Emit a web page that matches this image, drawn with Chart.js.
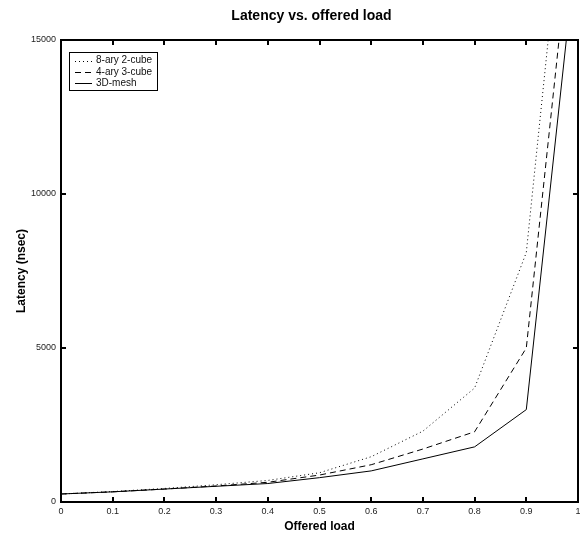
<!DOCTYPE html>
<html>
<head>
<meta charset="utf-8">
<script src="https://cdn.jsdelivr.net/npm/chart.js@4"></script>
<style>
  html, body { margin: 0; padding: 0; background: #fff; }
  #wrap { width: 580px; height: 534px; }
</style>
</head>
<body>
<div id="wrap"><canvas id="chart" width="580" height="534"></canvas></div>
<script>
// datos
const load = [0, 0.1, 0.2, 0.3, 0.4, 0.5, 0.6, 0.7, 0.8, 0.9, 1.0];
const cube8x2 = [260, 340, 440, 560, 700, 950, 1470, 2300, 3700, 8100, 24400];
const cube4x3 = [260, 330, 420, 520, 640, 875, 1210, 1720, 2280, 5000, 20800];
const mesh3d = [260, 330, 420, 510, 600, 790, 1010, 1400, 1790, 3000, 18500];
const seriesNames = ['8-ary 2-cube', '4-ary 3-cube', '3D-mesh'];
const xTicks = [0, 0.1, 0.2, 0.3, 0.4, 0.5, 0.6, 0.7, 0.8, 0.9, 1];
const yTicks = [0, 5000, 10000, 15000];
const chartTitle = 'Latency vs. offered load';

const toPoints = vals => vals.map((v, i) => ({ x: load[i], y: v }));
const FONT = '"Liberation Sans", Arial, sans-serif';

// caja estilo matlab + ticks hacia adentro + titulo + leyenda
const boxPlugin = {
    id: 'matlabBox',
    afterDraw(chart) {
        const { ctx, chartArea: a, scales } = chart;
        ctx.save();

        // titulo
        ctx.fillStyle = '#000';
        ctx.font = 'bold 14px ' + FONT;
        ctx.textAlign = 'center';
        ctx.textBaseline = 'middle';
        ctx.fillText(chartTitle, (a.left + a.right) / 2 - 8, 16.5);

        ctx.strokeStyle = '#000';
        ctx.lineWidth = 2;
        ctx.strokeRect(a.left, a.top, a.right - a.left, a.bottom - a.top);
        ctx.beginPath();
        const len = 5;
        scales.x.ticks.forEach(t => {
            const px = Math.round(scales.x.getPixelForValue(t.value));
            ctx.moveTo(px, a.bottom); ctx.lineTo(px, a.bottom - len);
            ctx.moveTo(px, a.top); ctx.lineTo(px, a.top + len);
        });
        scales.y.ticks.forEach(t => {
            const py = Math.round(scales.y.getPixelForValue(t.value));
            ctx.moveTo(a.left, py); ctx.lineTo(a.left + len, py);
            ctx.moveTo(a.right, py); ctx.lineTo(a.right - len, py);
        });
        ctx.stroke();

        // leyenda
        const lx = a.left + 8, ly = a.top + 12;
        const w = 88, h = 38;
        ctx.fillStyle = '#fff';
        ctx.fillRect(lx, ly, w, h);
        ctx.lineWidth = 1;
        ctx.strokeStyle = '#000';
        ctx.strokeRect(lx + 0.5, ly + 0.5, w, h);
        ctx.font = '10px ' + FONT;
        ctx.textAlign = 'left';
        ctx.textBaseline = 'middle';
        chart.data.datasets.forEach((ds, i) => {
            const y = ly + 8.5 + i * 11.3;
            ctx.setLineDash(ds.borderDash || []);
            ctx.beginPath();
            ctx.moveTo(lx + 6, Math.round(y) + 0.5);
            ctx.lineTo(lx + 23, Math.round(y) + 0.5);
            ctx.stroke();
            ctx.setLineDash([]);
            ctx.fillStyle = '#111';
            ctx.fillText(ds.label, lx + 27, y);
        });
        ctx.restore();
    }
};

new Chart(document.getElementById('chart'), {
    type: 'line',
    data: {
        datasets: [
            { label: seriesNames[0], data: toPoints(cube8x2), borderDash: [1, 3] },
            { label: seriesNames[1], data: toPoints(cube4x3), borderDash: [6, 4] },
            { label: seriesNames[2], data: toPoints(mesh3d), borderDash: [] }
        ].map(d => ({ ...d, borderColor: '#000', borderWidth: 1, pointRadius: 0, tension: 0, fill: false }))
    },
    options: {
        responsive: false,
        animation: false,
        layout: { padding: { left: 0, right: 2, top: 40, bottom: 0 } },
        plugins: {
            legend: { display: false },
            tooltip: { enabled: false },
            title: { display: false }
        },
        scales: {
            x: {
                type: 'linear',
                min: 0, max: 1,
                afterBuildTicks: s => { s.ticks = xTicks.map(v => ({ value: v })); },
                afterFit: s => { s.height = 32; s.paddingLeft = 0; s.paddingRight = 0; },
                grid: { display: false, drawTicks: false, tickLength: 0 },
                border: { display: false },
                ticks: {
                    color: '#222', padding: 4, maxRotation: 0,
                    font: { family: FONT, size: 9 },
                    callback: v => String(Number(v.toFixed(1)))
                },
                title: {
                    display: true, text: 'Offered load', color: '#000', padding: 0,
                    font: { family: FONT, size: 12, weight: 'bold' }
                }
            },
            y: {
                type: 'linear',
                min: 0, max: 15000,
                afterBuildTicks: s => { s.ticks = yTicks.map(v => ({ value: v })); },
                afterFit: s => { s.width = 61; s.paddingTop = 0; s.paddingBottom = 0; },
                grid: { display: false, drawTicks: false, tickLength: 0 },
                border: { display: false },
                ticks: {
                    color: '#222', padding: 5,
                    font: { family: FONT, size: 9 },
                    callback: v => String(v)
                },
                title: {
                    display: true, text: 'Latency (nsec)', color: '#000',
                    padding: { top: 14, bottom: 0 },
                    font: { family: FONT, size: 12, weight: 'bold' }
                }
            }
        }
    },
    plugins: [boxPlugin]
});
</script>
</body>
</html>
